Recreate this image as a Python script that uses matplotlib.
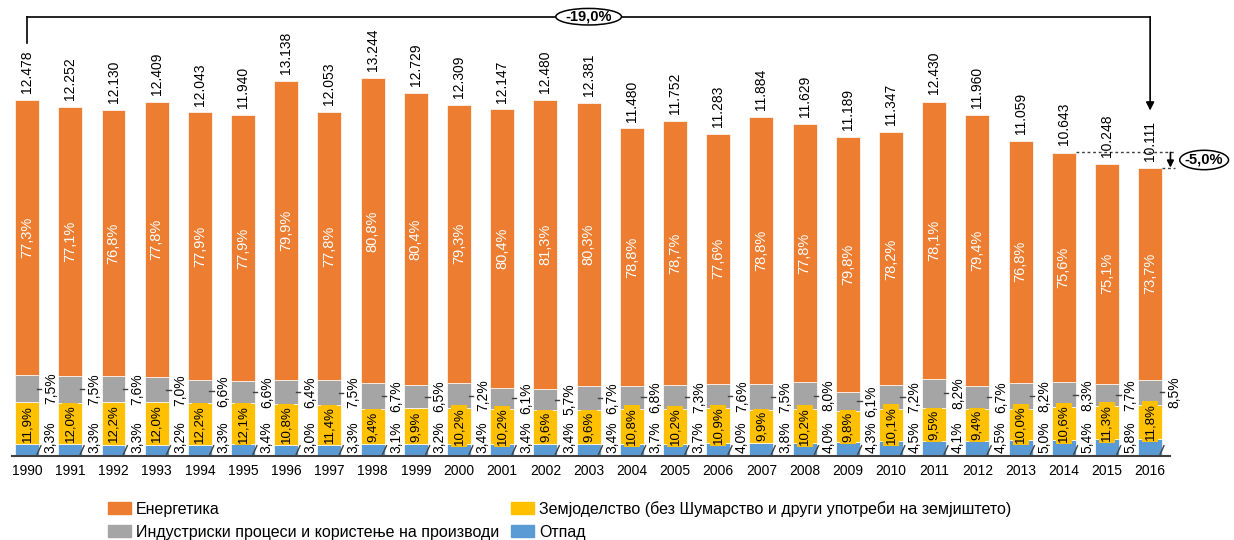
import matplotlib
matplotlib.use("Agg")
import matplotlib.pyplot as plt
from matplotlib.patches import Patch, Ellipse
import numpy as np

# Emissions by sector, totals in Gg CO2-eq and sector shares in percent
years = [str(y) for y in range(1990, 2017)]
totals = [12478, 12252, 12130, 12409, 12043, 11940, 13138, 12053, 13244, 12729,
          12309, 12147, 12480, 12381, 11480, 11752, 11283, 11884, 11629, 11189,
          11347, 12430, 11960, 11059, 10643, 10248, 10111]
energy_pct = [77.3, 77.1, 76.8, 77.8, 77.9, 77.9, 79.9, 77.8, 80.8, 80.4,
              79.3, 80.4, 81.3, 80.3, 78.8, 78.7, 77.6, 78.8, 77.8, 79.8,
              78.2, 78.1, 79.4, 76.8, 75.6, 75.1, 73.7]
agri_pct = [11.9, 12.0, 12.2, 12.0, 12.2, 12.1, 10.8, 11.4, 9.4, 9.9,
            10.2, 10.2, 9.6, 9.6, 10.8, 10.2, 10.9, 9.9, 10.2, 9.8,
            10.1, 9.5, 9.4, 10.0, 10.6, 11.3, 11.8]
industry_pct = [7.5, 7.5, 7.6, 7.0, 6.6, 6.6, 6.4, 7.5, 6.7, 6.5,
                7.2, 6.1, 5.7, 6.7, 6.8, 7.3, 7.6, 7.5, 8.0, 6.1,
                7.2, 8.2, 6.7, 8.2, 8.3, 7.7, 8.5]
waste_pct = [3.3, 3.3, 3.3, 3.2, 3.3, 3.4, 3.0, 3.3, 3.1, 3.2,
             3.4, 3.4, 3.4, 3.4, 3.7, 3.7, 4.0, 3.8, 4.0, 4.3,
             4.5, 4.1, 4.5, 5.0, 5.4, 5.8, 6.0]
change_total = "-19,0%"
change_recent = "-5,0%"

label_energy = "Енергетика"
label_industry = "Индустриски процеси и користење на производи"
label_agri = "Земјоделство (без Шумарство и други употреби на земјиштето)"
label_waste = "Отпад"

c_energy = "#ED7D31"
c_industry = "#A5A5A5"
c_agri = "#FFC000"
c_waste = "#5B9BD5"

plt.rcParams["font.family"] = ["Liberation Sans", "DejaVu Sans"]


def pct(v):
    return f"{v:.1f}".replace(".", ",") + "%"


def thousands(v):
    return f"{v:,}".replace(",", ".")


fig = plt.figure(figsize=(12.34, 5.40), dpi=100)
ax = fig.add_axes([12 / 1234, 84 / 540, 1158 / 1234, 445 / 540])

x = np.arange(len(years))
tot = np.array(totals, dtype=float)
waste = tot * np.array(waste_pct) / 100
agri = tot * np.array(agri_pct) / 100
ind = tot * np.array(industry_pct) / 100
en = tot * np.array(energy_pct) / 100

w = 0.555
ekw = dict(width=w, edgecolor="white", linewidth=0.5)
ax.bar(x, waste, color=c_waste, **ekw)
ax.bar(x, agri, bottom=waste, color=c_agri, **ekw)
ax.bar(x, ind, bottom=waste + agri, color=c_industry, **ekw)
ax.bar(x, en, bottom=waste + agri + ind, color=c_energy, **ekw)

ax.set_xlim(-0.35, 26.46)
ax.set_ylim(0, 15600)

for i in range(len(x)):
    xi = x[i]
    # total above the bar
    ax.annotate(thousands(totals[i]), (xi, tot[i]), xytext=(0, 5),
                textcoords="offset points", rotation=90, ha="center",
                va="bottom", fontsize=10, color="black")
    # energy share inside orange segment
    ax.text(xi, waste[i] + agri[i] + ind[i] + en[i] / 2, pct(energy_pct[i]),
            rotation=90, ha="center", va="center", fontsize=10.5,
            color="white")
    # agriculture share on yellow box
    ax.text(xi, waste[i] + agri[i] / 2, pct(agri_pct[i]), rotation=90,
            ha="center", va="center", fontsize=9.5, color="black",
            bbox=dict(boxstyle="square,pad=0.15", fc=c_agri, ec="none"))
    # industry share to the right with leader
    gmid = waste[i] + agri[i] + ind[i] / 2
    ax.plot([xi + 0.22, xi + 0.32], [gmid, gmid], color="#404040", lw=1)
    ax.text(xi + 0.55, gmid, pct(industry_pct[i]), rotation=90,
            ha="center", va="center", fontsize=10, color="black")
    # waste share to the right with leader
    ax.plot([xi + 0.23, xi + 0.32], [60, 360], color="#404040", lw=1)
    ax.annotate(pct(waste_pct[i]), (xi + 0.55, 0), xytext=(0, 2),
                textcoords="offset points", rotation=90, ha="center",
                va="bottom", fontsize=10, color="black")

# bracket showing change since the base year
y_br = 15400
ax.plot([x[0], x[0]], [tot[0] + 2000, y_br], color="black", lw=1.2,
        clip_on=False)
ax.plot([x[0], x[-1]], [y_br, y_br], color="black", lw=1.2, clip_on=False)
ax.annotate("", xy=(x[-1], tot[-1] + 2000), xytext=(x[-1], y_br),
            arrowprops=dict(arrowstyle="-|>", color="black", lw=1.2,
                            shrinkA=0, shrinkB=0, mutation_scale=12),
            annotation_clip=False)
xc = (x[0] + x[-1]) / 2
ax.add_patch(Ellipse((xc, y_br), 1.52, 580, fc="white", ec="black", lw=1.1,
                     clip_on=False, zorder=5))
ax.text(xc, y_br, change_total, ha="center", va="center", fontsize=10.5,
        fontweight="bold", clip_on=False, zorder=6)

# change over the last two years
x_end = 26.57
ax.plot([x[-3] + w / 2, x_end], [tot[-3], tot[-3]], ls=(0, (2, 2)),
        color="#404040", lw=1, clip_on=False)
ax.plot([x[-1] + w / 2, x_end], [tot[-1], tot[-1]], ls=(0, (2, 2)),
        color="#404040", lw=1, clip_on=False)
ax.annotate("", xy=(26.47, tot[-1]), xytext=(26.47, tot[-3]),
            arrowprops=dict(arrowstyle="-|>", color="black", lw=1.2,
                            shrinkA=0, shrinkB=0, mutation_scale=10),
            annotation_clip=False)
ym = (tot[-3] + tot[-1]) / 2
ax.add_patch(Ellipse((27.25, ym), 1.13, 680, fc="white", ec="black", lw=1.1,
                     clip_on=False, zorder=5))
ax.text(27.25, ym, change_recent, ha="center", va="center", fontsize=10.5,
        fontweight="bold", clip_on=False, zorder=6)

ax.set_xticks(x, years)
ax.tick_params(axis="x", length=0, pad=6, labelsize=10)
ax.set_yticks([])
for s in ("left", "top", "right"):
    ax.spines[s].set_visible(False)
ax.spines["bottom"].set_color("#404040")
ax.spines["bottom"].set_linewidth(1.5)

handles = [Patch(color=c_energy, label=label_energy),
           Patch(color=c_industry, label=label_industry),
           Patch(color=c_agri, label=label_agri),
           Patch(color=c_waste, label=label_waste)]
fig.legend(handles=handles, ncol=2, loc="upper left",
           bbox_to_anchor=(108 / 1234, 1 - 501 / 540), frameon=False,
           fontsize=11.5, handlelength=1.45, handleheight=0.75,
           handletextpad=0.3, columnspacing=0.75, borderpad=0,
           borderaxespad=0, labelspacing=0.5)

fig.savefig("out.png", dpi=100)
